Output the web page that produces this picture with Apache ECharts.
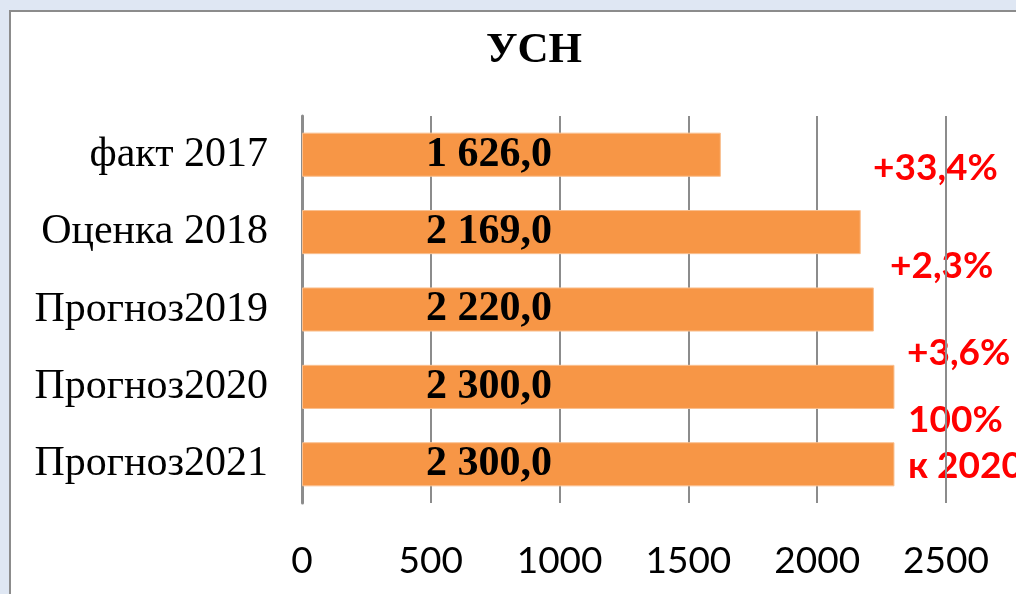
<!DOCTYPE html>
<html>
<head>
<meta charset="utf-8">
<script src="https://cdn.jsdelivr.net/npm/echarts@6/dist/echarts.min.js"></script>
<style>
    html, body { margin: 0; padding: 0; }
    body { width: 1016px; height: 594px; background: #dfe7f3; position: relative; overflow: hidden; }
    #frame { position: absolute; left: 9px; top: 10px; width: 1007px; height: 584px; background: #fff;
        border-left: 2px solid #8c8c8c; border-top: 2px solid #8c8c8c; }
    #chartWrapper { position: absolute; left: 0; top: 0; width: 1016px; height: 594px; }
</style>
</head>
<body>
<div id="frame"></div>
<div id="chartWrapper"></div>
<script>
    let categories = ['факт 2017', 'Оценка 2018', 'Прогноз2019', 'Прогноз2020', 'Прогноз2021'];
    let values = [1626.0, 2169.0, 2220.0, 2300.0, 2300.0];
    let xTicks = [0, 500, 1000, 1500, 2000, 2500];
    let growthNotes = ['+33,4%', '+2,3%', '+3,6%', '100%', 'к 2020'];

    function fmtValue(v) {
        // 2169 -> "2 169,0"
        let s = v.toFixed(1).replace('.', ',');
        let parts = s.split(',');
        let intPart = parts[0].replace(/\B(?=(\d{3})+(?!\d))/g, ' ');
        return intPart + ',' + parts[1];
    }

    let myChart = echarts.init(document.getElementById('chartWrapper'));

    // подписи с приростом справа
    let notePos = [[873, 172], [890, 270], [907, 357], [908, 424], [908, 470]];
    let graphicItems = growthNotes.map(function (t, i) {
        return {
            type: 'text',
            left: notePos[i][0],
            top: notePos[i][1] - 22,
            style: {
                text: t,
                fill: '#ff0000',
                font: 'bold 37px Lato, "Open Sans", sans-serif'
            }
        };
    });

    let option = {
        animation: false,
        title: {
            text: 'УСН',
            left: 481,
            top: 24,
            textStyle: {
                fontFamily: '"Liberation Serif", "Times New Roman", serif',
                fontWeight: 'bold',
                fontSize: 43,
                color: '#000'
            }
        },
        grid: {
            left: 302,
            right: 70,
            top: 116,
            bottom: 91
        },
        xAxis: {
            type: 'value',
            min: xTicks[0],
            max: xTicks[xTicks.length - 1],
            interval: 500,
            axisLine: { show: false },
            axisTick: { show: false },
            splitLine: {
                show: true,
                lineStyle: { color: '#8c8c8c', width: 2 }
            },
            axisLabel: {
                margin: 40,
                color: '#000',
                fontSize: 37,
                fontFamily: 'Lato, "Open Sans", sans-serif',
                formatter: function (v) {
                    return String(v);
                }
            }
        },
        yAxis: {
            type: 'category',
            inverse: true,
            data: categories,
            axisTick: { show: false },
            axisLine: {
                show: true,
                lineStyle: { color: '#8c8c8c', width: 3 }
            },
            axisLabel: {
                margin: 34,
                color: '#000',
                fontSize: 42,
                fontFamily: '"Liberation Serif", "Times New Roman", serif'
            }
        },
        series: [{
            type: 'bar',
            data: values,
            barCategoryGap: '43%',
            itemStyle: {
                color: '#f79646',
                borderColor: '#fac090',
                borderWidth: 1
            },
            label: {
                show: true,
                position: [124, '50%'],
                verticalAlign: 'middle',
                color: '#000',
                fontSize: 42,
                fontWeight: 'bold',
                fontFamily: '"Liberation Serif", "Times New Roman", serif',
                formatter: function (p) {
                    return fmtValue(p.value);
                }
            }
        }],
        graphic: graphicItems
    };

    myChart.setOption(option);
</script>
</body>
</html>
